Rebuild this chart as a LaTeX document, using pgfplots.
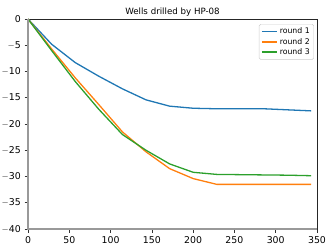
\documentclass[border=0pt]{standalone}
\usepackage{fontspec}
\setmainfont{DejaVu Sans}
\usepackage{pgfplots}
\pgfplotsset{compat=1.18}
\definecolor{c1}{HTML}{1F77B4}
\definecolor{c2}{HTML}{FF7F0E}
\definecolor{c3}{HTML}{2CA02C}
\definecolor{spinegray}{HTML}{999999}
\newcommand{\mn}{\ensuremath{-}}
\begin{document}
\begin{tikzpicture}[x=1bp,y=1bp]
\useasboundingbox (0,0) rectangle (332,249);
\begin{axis}[
  at={(28bp,20bp)}, anchor=south west,
  scale only axis, width=289bp, height=210bp,
  xmin=0, xmax=350, ymin=-40, ymax=0,
  xtick={0,50,...,350},
  ytick={-40,-35,...,0},
  yticklabels={{\mn40},{\mn35},{\mn30},{\mn25},{\mn20},{\mn15},{\mn10},{\mn5},0},
  tick align=outside, tick pos=left,
  major tick length=3.5bp,
  tick style={black!80, line width=0.6pt},
  axis line style={black!85, line width=0.7pt},
  tick label style={font=\fontsize{9.4}{11}\selectfont, inner sep=0pt},
  xticklabel style={yshift=-3.5bp},
  yticklabel style={xshift=-3.5bp},
  /pgf/number format/assume math mode=true,
  legend style={at={(1,1)}, anchor=north east, xshift=-3bp, yshift=-5bp,
    draw=black!20, rounded corners=1.5bp, line width=0.5pt,
    font=\fontsize{7.8}{9.5}\selectfont, inner xsep=2bp, inner ysep=1.5bp,
    row sep=-1bp},
  legend cell align=left,
  legend image code/.code={\draw[#1, line width=1.6pt] (0bp,0bp) -- (15bp,0bp);},
  every axis plot/.append style={line width=1.3pt},
  clip=false,
]
\addplot[c1] coordinates {(0,0) (28.58,-4.8) (57.17,-8.3) (85.75,-10.9) (114.33,-13.3) (142.92,-15.4) (171.5,-16.6) (200.08,-17.0) (228.67,-17.1) (257.25,-17.1) (285.83,-17.1) (314.42,-17.3) (343,-17.5)};
\addlegendentry{round 1}
\addplot[c2] coordinates {(0,0) (28.58,-5.7) (57.17,-11.2) (85.75,-16.3) (114.33,-21.5) (142.92,-25.3) (171.5,-28.5) (200.08,-30.4) (228.67,-31.5) (257.25,-31.5) (285.83,-31.5) (314.42,-31.5) (343,-31.5)};
\addlegendentry{round 2}
\addplot[c3] coordinates {(0,0) (28.58,-6.0) (57.17,-11.9) (85.75,-17.2) (114.33,-22.0) (142.92,-25.0) (171.5,-27.6) (200.08,-29.2) (228.67,-29.6) (257.25,-29.65) (285.83,-29.7) (314.42,-29.75) (343,-29.85)};
\addlegendentry{round 3}
\draw[spinegray, line width=1.8pt] (rel axis cs:0,1) -- (rel axis cs:0,0) -- (rel axis cs:1,0);
\node[anchor=base, inner sep=0pt, font=\fontsize{8.7}{10.5}\selectfont] at (rel axis cs:0.5,1) [yshift=4.2bp] {Wells drilled by HP-08};
\end{axis}
\end{tikzpicture}
\end{document}
